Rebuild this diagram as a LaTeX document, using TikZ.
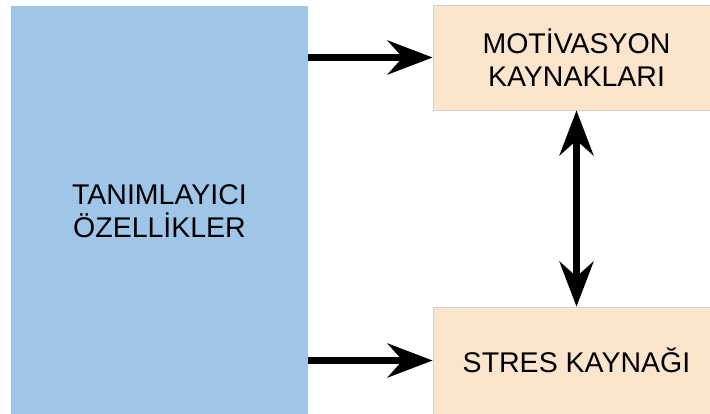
\documentclass[tikz,border=0pt]{standalone}
\usepackage{fontspec}
\setmainfont{Liberation Sans}
\usetikzlibrary{arrows.meta}

\definecolor{kutumavi}{HTML}{9FC5E8}
\definecolor{kututen}{HTML}{FCE5CD}

\tikzset{
    anakutu/.style={fill=kutumavi, inner sep=0pt, align=center,
        minimum width=297pt, minimum height=409pt},
    yankutu/.style={fill=kututen, draw=black!18, line width=0.8pt, inner sep=0pt,
        align=center, minimum width=287pt},
    okucu/.style={line width=6.5pt,
        -{Stealth[length=45pt, width=34pt, inset=15pt]}},
    ciftok/.style={line width=6.5pt,
        {Stealth[length=45pt, width=34pt, inset=15pt]}-{Stealth[length=45pt, width=34pt, inset=15pt]}}
}

\begin{document}
\begin{tikzpicture}[x=1pt, y=1pt, font=\fontsize{28.5}{33}\selectfont]
    \useasboundingbox (0,0) rectangle (710,-414);
    \clip (0,0) rectangle (710,-414);

    % sol: tanimlayici ozellikler
    \node[anakutu] (ozellik) at (159.5,-211) {TANIMLAYICI\\ÖZELLİKLER};

    % sag: iki kutu
    \node[yankutu, minimum height=105pt] (motiv) at (576.5,-57.5) {MOTİVASYON\\KAYNAKLARI};
    \node[yankutu, minimum height=107pt] (stres) at (576.5,-360.5) {STRES KAYNAĞI};

    % oklar
    \draw[okucu] (ozellik.east |- motiv.west) -- (motiv.west);
    \draw[okucu] (ozellik.east |- stres.west) -- (stres.west);
    \draw[ciftok] (motiv.south) -- (stres.north);
\end{tikzpicture}
\end{document}
